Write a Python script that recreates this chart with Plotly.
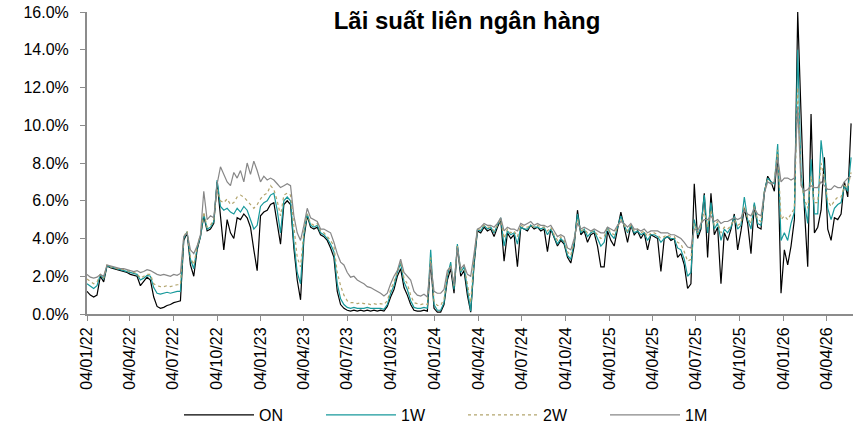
import pandas as pd
import plotly.graph_objects as go

# weekly observations, first one on 04/01/2022
START_DATE = '2022-01-04'
N_POINTS = 230

onRates = [
	1.2, 1.0, 0.9, 1.0, 2.0, 1.7, 2.55, 2.45, 2.4, 2.35,
	2.3, 2.25, 2.2, 2.1, 2.05, 2.0, 1.5, 1.7, 1.95, 1.8,
	0.9, 0.4, 0.3, 0.35, 0.45, 0.5, 0.6, 0.65, 0.7, 3.9,
	4.3, 2.6, 2.0, 3.4, 4.1, 5.2, 4.4, 4.5, 4.8, 7.0,
	5.2, 3.4, 5.0, 4.3, 4.0, 5.1, 5.0, 5.3, 5.1, 4.6,
	3.4, 2.3, 5.2, 5.4, 5.5, 5.8, 5.9, 4.8, 3.7, 5.8,
	6.0, 5.8, 3.5, 1.8, 0.75, 4.0, 5.2, 4.6, 4.5, 4.6,
	4.2, 4.1, 3.9, 3.5, 3.0, 1.2, 0.5, 0.3, 0.2, 0.15,
	0.2, 0.15, 0.2, 0.15, 0.2, 0.15, 0.2, 0.15, 0.2, 0.15,
	0.4, 0.9, 1.3, 2.0, 2.4, 1.4, 1.0, 0.5, 0.2, 0.15,
	0.15, 0.2, 0.15, 2.8, 0.3, 0.1, 0.1, 0.5, 1.8, 2.4,
	1.1, 3.6, 2.0, 2.3, 1.0, 0.1, 2.6, 4.4, 4.3, 4.6,
	4.4, 4.5, 4.1, 4.6, 5.0, 2.8, 4.3, 4.0, 4.2, 2.5,
	4.6, 4.5, 4.4, 4.7, 4.5, 4.6, 4.4, 4.5, 3.3, 4.5,
	4.0, 3.6, 3.9, 3.7, 3.0, 2.7, 3.6, 5.5, 4.2, 4.4,
	3.8, 4.2, 4.3, 3.6, 2.5, 2.5, 4.4, 3.9, 3.6, 4.6,
	5.4, 4.6, 3.8, 4.7, 4.2, 4.4, 4.0, 4.3, 3.4, 4.2,
	4.1, 4.0, 2.25, 4.0, 4.1, 3.9, 4.0, 3.0, 3.2, 2.6,
	1.35, 1.6, 6.9, 4.0, 4.5, 6.4, 3.0, 6.4, 4.2, 4.6,
	1.6, 4.3, 3.9, 4.5, 5.3, 3.4, 4.4, 5.6, 4.8, 3.2,
	5.8, 4.6, 4.5, 6.4, 7.3, 7.0, 6.5, 8.5, 1.1, 3.4,
	2.6, 3.6, 5.0, 16.0, 10.6, 5.6, 2.5, 10.6, 4.3, 4.6,
	5.5, 8.3, 4.5, 3.9, 5.1, 5.0, 5.3, 7.0, 6.2, 10.1,
]

w1Rates = [
	1.6, 1.45, 1.35, 1.5, 2.1, 1.85, 2.55, 2.5, 2.45, 2.4,
	2.35, 2.3, 2.25, 2.2, 2.15, 2.1, 1.8, 1.9, 2.05, 2.0,
	1.4, 1.1, 1.05, 1.1, 1.15, 1.1, 1.15, 1.2, 1.2, 4.0,
	4.35, 2.9, 2.4, 3.5, 4.1, 5.3, 4.5, 4.6, 4.9, 7.1,
	5.7, 5.5, 5.6, 5.4, 5.3, 5.6, 5.4, 5.7, 5.5, 5.0,
	4.5, 4.7, 5.7, 5.9, 6.0, 6.3, 6.4, 5.5, 4.3, 6.0,
	6.2, 6.0, 3.8, 2.2, 1.6, 4.2, 5.3, 4.7, 4.6, 4.7,
	4.3, 4.2, 4.0, 3.7, 3.3, 1.6, 0.8, 0.5, 0.35, 0.3,
	0.35, 0.3, 0.3, 0.3, 0.35, 0.3, 0.3, 0.3, 0.3, 0.25,
	0.5, 1.1, 1.5, 2.2, 2.7, 1.7, 1.3, 0.7, 0.35, 0.3,
	0.3, 0.35, 0.3, 3.4, 0.5, 0.2, 0.2, 0.6, 2.0, 2.75,
	1.3, 3.7, 2.2, 2.5, 1.2, 0.15, 2.8, 4.45, 4.4, 4.7,
	4.5, 4.6, 4.3, 4.7, 5.1, 3.6, 4.4, 4.2, 4.3, 3.7,
	4.6, 4.5, 4.5, 4.7, 4.6, 4.6, 4.5, 4.6, 4.2, 4.5,
	4.1, 3.7, 4.0, 3.8, 3.1, 2.9, 3.8, 5.3, 4.3, 4.5,
	4.1, 4.3, 4.4, 4.0, 3.6, 3.8, 4.6, 4.2, 4.0, 4.6,
	5.2, 4.7, 4.3, 4.7, 4.3, 4.4, 4.2, 4.3, 3.9, 4.2,
	4.2, 4.1, 3.8, 4.0, 4.1, 4.0, 4.0, 3.5, 3.4, 2.9,
	2.0, 2.2, 5.0, 4.2, 4.6, 6.3, 4.3, 5.9, 4.5, 4.8,
	3.9, 4.5, 4.3, 4.6, 5.2, 4.5, 4.7, 6.2, 5.0, 4.5,
	5.9, 4.8, 4.7, 6.5, 7.2, 7.0, 6.9, 9.0, 3.9, 4.3,
	3.9, 4.8, 5.4, 14.0, 7.5, 5.9, 4.8, 8.2, 5.3, 5.3,
	9.2, 7.6, 5.6, 5.0, 5.6, 5.8, 5.9, 6.8, 6.5, 8.3,
]

w2Rates = [
	1.85, 1.7, 1.6, 1.7, 2.1, 1.9, 2.6, 2.5, 2.45, 2.4,
	2.4, 2.35, 2.3, 2.25, 2.2, 2.15, 1.9, 2.0, 2.1, 2.1,
	1.6, 1.5, 1.45, 1.45, 1.5, 1.45, 1.5, 1.55, 1.55, 4.1,
	4.4, 3.0, 2.6, 3.55, 4.2, 5.4, 4.6, 4.7, 5.0, 6.6,
	6.0, 5.9, 6.1, 5.8, 5.9, 6.2, 6.3, 6.2, 6.0, 5.8,
	5.6, 5.8, 6.1, 6.3, 6.4, 6.8, 6.6, 6.0, 5.2, 6.3,
	6.4, 6.3, 4.5, 3.0, 2.5, 4.4, 5.3, 4.8, 4.7, 4.8,
	4.4, 4.3, 4.1, 3.9, 3.6, 2.2, 1.5, 1.0, 0.7, 0.6,
	0.6, 0.55, 0.6, 0.55, 0.55, 0.5, 0.55, 0.5, 0.55, 0.5,
	0.7, 1.3, 1.7, 2.3, 2.8, 1.9, 1.6, 1.0, 0.6, 0.55,
	0.5, 0.55, 0.5, 3.0, 0.7, 0.45, 0.45, 0.8, 2.1, 2.6,
	1.5, 3.6, 2.3, 2.6, 1.5, 0.6, 3.0, 4.5, 4.5, 4.7,
	4.6, 4.6, 4.4, 4.7, 5.0, 4.0, 4.5, 4.3, 4.4, 4.1,
	4.7, 4.6, 4.6, 4.7, 4.6, 4.7, 4.6, 4.6, 4.4, 4.6,
	4.2, 3.9, 4.1, 3.9, 3.3, 3.1, 3.9, 5.0, 4.4, 4.5,
	4.3, 4.4, 4.4, 4.2, 4.0, 4.1, 4.6, 4.3, 4.2, 4.6,
	5.0, 4.7, 4.4, 4.7, 4.4, 4.5, 4.3, 4.4, 4.1, 4.3,
	4.3, 4.2, 4.0, 4.1, 4.2, 4.1, 4.1, 3.8, 3.7, 3.3,
	2.8, 2.9, 4.8, 4.3, 4.7, 5.5, 4.6, 5.5, 4.7, 4.9,
	4.3, 4.6, 4.5, 4.7, 5.0, 4.7, 4.8, 5.7, 5.1, 4.8,
	5.7, 5.0, 4.9, 6.5, 7.1, 6.9, 7.1, 8.7, 5.0, 5.2,
	5.0, 5.3, 5.6, 12.0, 7.0, 6.1, 5.6, 7.3, 5.9, 5.9,
	8.0, 7.2, 6.0, 5.7, 6.0, 6.2, 6.2, 6.8, 6.7, 7.5,
]

m1Rates = [
	2.1, 1.95, 1.9, 1.95, 2.1, 2.0, 2.6, 2.55, 2.5, 2.45,
	2.4, 2.4, 2.35, 2.3, 2.25, 2.3, 2.2, 2.25, 2.35, 2.3,
	2.2, 2.1, 2.05, 2.1, 2.05, 2.0, 2.1, 2.05, 2.15, 4.1,
	4.3, 3.4, 3.2, 3.6, 4.2, 6.5, 5.0, 5.2, 5.1, 6.9,
	7.8, 7.4, 7.0, 6.8, 7.5, 7.2, 7.6, 7.0, 8.0, 7.4,
	8.1, 7.6, 7.0, 7.3, 7.1, 7.2, 7.1, 6.9, 6.7, 6.8,
	6.9, 6.8, 5.2, 4.3, 3.9, 4.7, 5.6, 5.1, 5.0, 4.9,
	4.5, 4.5, 4.4, 4.3, 3.8, 3.2, 2.75, 2.6, 2.2, 1.95,
	2.0, 1.8, 1.7, 1.6, 1.45, 1.4, 1.3, 1.2, 1.1, 0.95,
	1.1, 1.6, 2.0, 2.3, 2.9, 2.2, 2.0, 1.8, 1.2, 1.0,
	0.95, 1.05, 0.9, 2.7, 1.2, 1.1, 1.1, 1.3, 2.3, 2.5,
	1.6, 3.5, 2.4, 2.6, 2.1, 2.0, 3.2, 4.5, 4.6, 4.8,
	4.7, 4.7, 4.6, 4.8, 5.1, 4.4, 4.6, 4.5, 4.5, 4.4,
	4.8, 4.7, 4.8, 4.9, 4.7, 4.8, 4.7, 4.7, 4.6, 4.7,
	4.4, 4.1, 4.2, 4.1, 3.5, 3.4, 4.0, 4.8, 4.5, 4.6,
	4.5, 4.4, 4.5, 4.4, 4.3, 4.3, 4.6, 4.5, 4.4, 4.7,
	4.9, 4.8, 4.6, 4.8, 4.5, 4.5, 4.4, 4.5, 4.3, 4.4,
	4.4, 4.4, 4.3, 4.3, 4.3, 4.2, 4.2, 4.1, 4.0, 3.8,
	3.55, 3.5, 4.5, 4.4, 4.8, 5.0, 5.0, 5.2, 4.9, 5.0,
	4.8, 4.9, 4.9, 5.0, 5.1, 5.0, 5.1, 5.5, 5.3, 5.2,
	5.6, 5.3, 5.2, 6.4, 7.0, 6.9, 7.0, 8.3, 7.0, 7.2,
	7.2, 7.1, 7.2, 11.0, 6.8, 6.5, 6.6, 6.8, 6.7, 6.7,
	7.0, 6.8, 6.6, 6.6, 6.8, 6.7, 6.7, 7.0, 7.2, 7.3,
]

# quarterly ticks: 04/01/22, 04/04/22, ... 04/04/26
tickDates = pd.date_range('2022-01-01', periods=18, freq='QS') + pd.Timedelta(days=3)

dates = pd.date_range(START_DATE, periods=N_POINTS, freq='7D')

FONT = 'Liberation Sans, Arial, sans-serif'
AXIS_GREY = '#8c8c8c'

series = [
	('ON', onRates, '#000000', 'solid', 1.2),
	('1W', w1Rates, '#17999b', 'solid', 1.2),
	('2W', w2Rates, '#b3a56e', 'dot', 1.2),
	('1M', m1Rates, '#878787', 'solid', 1.2),
]

fig = go.Figure()
for name, values, color, dash, width in series:
	fig.add_trace(go.Scatter(
		x=dates,
		y=[v / 100 for v in values],
		name=name,
		mode='lines',
		line=dict(color=color, dash=dash, width=width),
	))

fig.update_layout(
	width=854,
	height=430,
	margin=dict(l=87, r=1, t=12, b=116, autoexpand=False),
	paper_bgcolor='white',
	plot_bgcolor='white',
	font=dict(family=FONT, size=16, color='#000000'),
	title=dict(
		text='<b>Lãi suất liên ngân hàng</b>',
		font=dict(family=FONT, size=24, color='#000000'),
		x=467 / 854,
		xanchor='center',
		y=1 - 21 / 430,
		yanchor='middle',
		automargin=False,
	),
	showlegend=True,
	legend=dict(
		orientation='h',
		xref='container',
		yref='container',
		x=179 / 854,
		xanchor='left',
		y=15 / 430,
		yanchor='middle',
		itemwidth=70,
		entrywidth=57,
		font=dict(family=FONT, size=16),
		bgcolor='rgba(0,0,0,0)',
	),
)

fig.update_xaxes(
	type='date',
	range=['2022-01-04', '2026-05-30'],
	tickvals=tickDates,
	tickformat='%d/%m/%y',
	tickangle=-90,
	ticks='outside',
	ticklen=5,
	tickcolor=AXIS_GREY,
	showline=True,
	linecolor=AXIS_GREY,
	linewidth=2,
	showgrid=False,
	zeroline=False,
	automargin=False,
	tickfont=dict(family=FONT, size=16),
)

fig.update_yaxes(
	range=[0, 0.16],
	dtick=0.02,
	tickformat='.1%',
	ticks='outside',
	ticklen=5,
	tickcolor=AXIS_GREY,
	showline=True,
	linecolor=AXIS_GREY,
	linewidth=2,
	showgrid=False,
	zeroline=False,
	automargin=False,
	tickfont=dict(family=FONT, size=16),
	ticklabelstandoff=8,
)

# the page body has a default 8px margin; drop it so the chart sits at the corner
fig.write_html(
	'out.html',
	config={'displayModeBar': False},
	post_script="document.body.style.margin = '0px';",
)
